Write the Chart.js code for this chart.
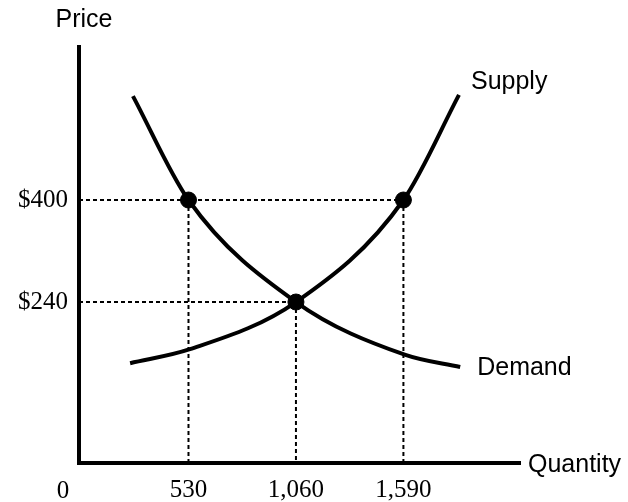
<!DOCTYPE html>
<html>
<head>
<meta charset="utf-8">
<script src="https://cdn.jsdelivr.net/npm/chart.js@4"></script>
<style>
  html, body { margin: 0; padding: 0; background: #fff; }
  #wrap { width: 628px; height: 502px; }
</style>
</head>
<body>
<div id="wrap"><canvas id="market"></canvas></div>
<script>
// quantity / price pairs
const demandQty = [256, 530, 1060, 1600, 1870];
const demandPrice = [563, 400, 240, 157, 138];
const supplyQty = [242, 537, 1060, 1590, 1864];
const supplyPrice = [144, 166, 240, 400, 565];

// the three marked points
const markQty = [530, 1060, 1590];
const markPrice = [400, 240, 400];

const qtyTicks = [530, 1060, 1590];
const priceTicks = [240, 400];

const pairs = (xs, ys) => xs.map((x, i) => ({ x: x, y: ys[i] }));

const dotted = {
  borderColor: '#000',
  borderWidth: 2,
  borderDash: [4, 3],
  pointRadius: 0,
  showLine: true,
  tension: 0
};

const guides = [];
markQty.forEach((q, i) => {
  // down to the quantity axis
  guides.push(Object.assign({ data: [{ x: q, y: markPrice[i] }, { x: q, y: -12.5 }] }, dotted));
});
// across to the price axis
guides.push(Object.assign({ data: [{ x: -10, y: 400 }, { x: 1590, y: 400 }] }, dotted));
guides.push(Object.assign({ data: [{ x: -10, y: 240 }, { x: 1060, y: 240 }] }, dotted));

const textLabels = {
  id: 'textLabels',
  afterDraw(chart) {
    const c = chart.ctx;
    const a = chart.chartArea;
    const xs = chart.scales.x, ys = chart.scales.y;
    c.save();
    c.fillStyle = '#000';
    c.textBaseline = 'middle';
    c.font = '25px "Liberation Sans", Arial, sans-serif';
    c.textAlign = 'center';
    c.fillText('Price', 84, 20);
    c.textAlign = 'left';
    c.fillText('Quantity', a.right + 8, a.bottom + 2);
    let n = supplyQty.length - 1;
    c.fillText('Supply', xs.getPixelForValue(supplyQty[n]) + 12, ys.getPixelForValue(supplyPrice[n]) - 13);
    n = demandQty.length - 1;
    c.fillText('Demand', xs.getPixelForValue(demandQty[n]) + 17, ys.getPixelForValue(demandPrice[n]) + 1);
    c.font = '25px "Liberation Serif", "Times New Roman", serif';
    c.textAlign = 'center';
    c.fillText('0', 63, 491);
    c.restore();
  }
};

new Chart(document.getElementById('market'), {
  type: 'scatter',
  data: {
    datasets: [
      {
        label: 'Demand',
        data: pairs(demandQty, demandPrice),
        showLine: true,
        borderColor: '#000',
        borderWidth: 4,
        pointRadius: 0,
        cubicInterpolationMode: 'monotone'
      },
      {
        label: 'Supply',
        data: pairs(supplyQty, supplyPrice),
        showLine: true,
        borderColor: '#000',
        borderWidth: 4,
        pointRadius: 0,
        cubicInterpolationMode: 'monotone'
      },
      {
        label: 'Points',
        data: pairs(markQty, markPrice),
        backgroundColor: '#000',
        borderColor: '#000',
        pointRadius: 8,
        showLine: false
      }
    ].concat(guides)
  },
  options: {
    responsive: true,
    maintainAspectRatio: false,
    animation: false,
    layout: { padding: { top: 47, right: 108, left: 0, bottom: 0 } },
    plugins: {
      legend: { display: false },
      tooltip: { enabled: false }
    },
    scales: {
      x: {
        type: 'linear',
        min: -10,
        max: 2165,
        grid: { display: false, drawTicks: false },
        border: { display: true, color: '#000', width: 4 },
        afterBuildTicks: s => { s.ticks = qtyTicks.map(v => ({ value: v })); },
        afterFit: s => { s.height = 39; },
        ticks: {
          color: '#000',
          padding: 12,
          maxRotation: 0,
          font: { family: '"Liberation Serif", "Times New Roman", serif', size: 25 },
          callback: v => v.toLocaleString('en-US')
        }
      },
      y: {
        type: 'linear',
        min: -12.5,
        max: 640,
        grid: { display: false, drawTicks: false },
        border: { display: true, color: '#000', width: 4 },
        afterBuildTicks: s => { s.ticks = priceTicks.map(v => ({ value: v })); },
        afterFit: s => { s.width = 79; },
        ticks: {
          color: '#000',
          padding: 11,
          font: { family: '"Liberation Serif", "Times New Roman", serif', size: 25 },
          callback: v => '$' + v
        }
      }
    }
  },
  plugins: [textLabels]
});
</script>
</body>
</html>
